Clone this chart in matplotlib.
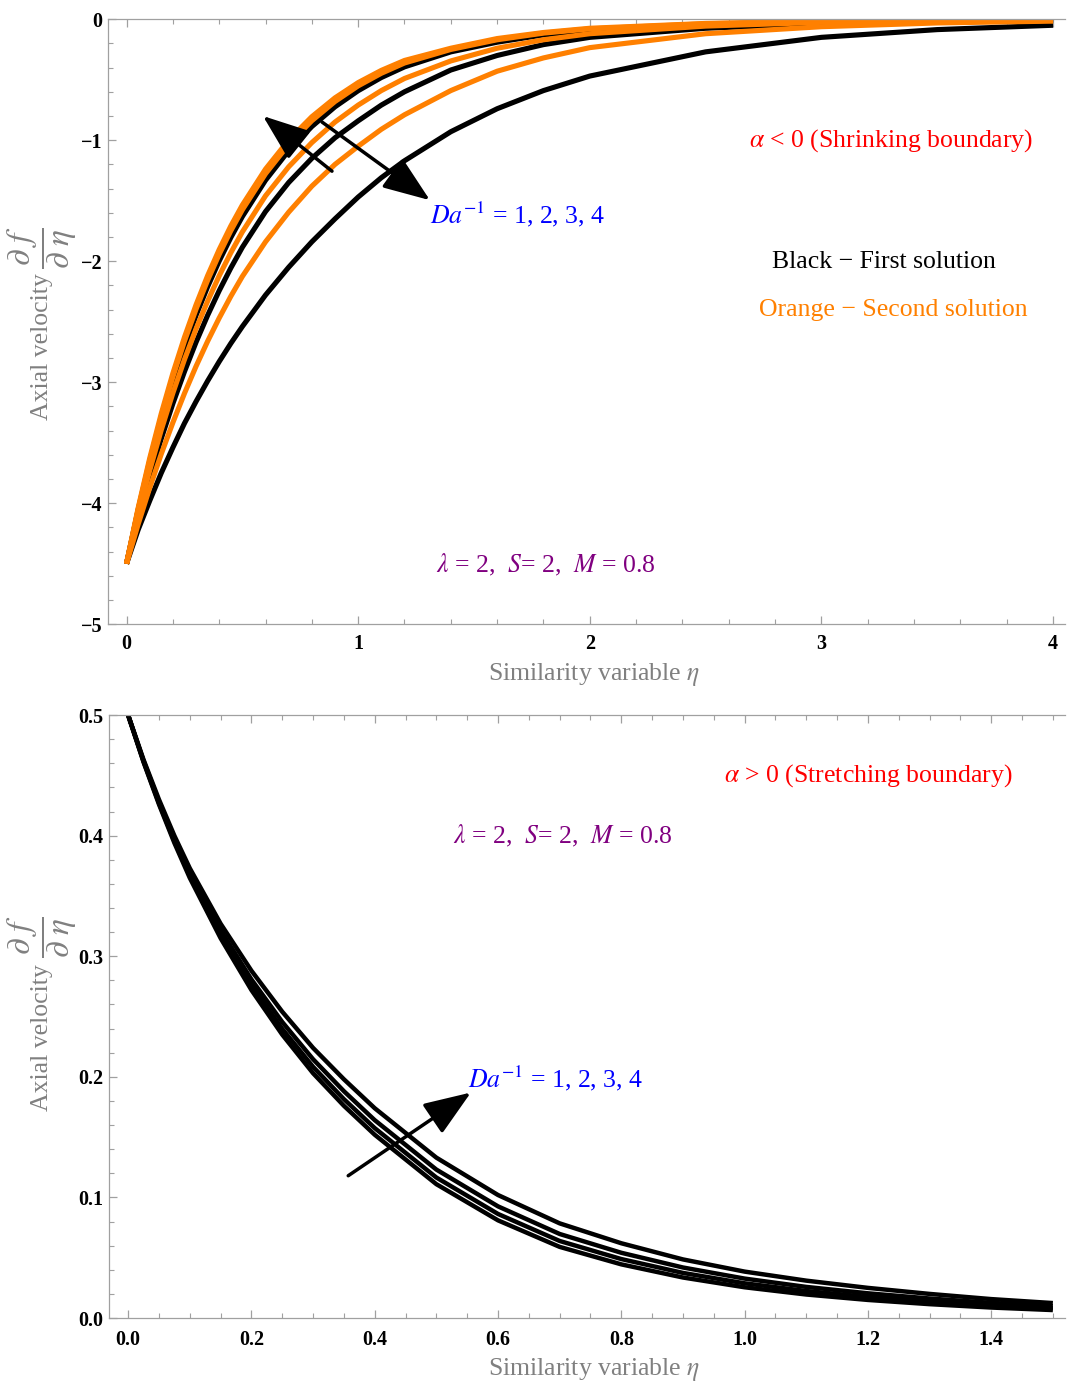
import matplotlib
matplotlib.use("Agg")
import matplotlib.pyplot as plt
from matplotlib.ticker import MultipleLocator

plt.rcParams['font.family'] = 'serif'
plt.rcParams['font.serif'] = ['Liberation Serif', 'DejaVu Serif']
plt.rcParams['mathtext.fontset'] = 'stix'

# ---- top panel: shrinking boundary (alpha < 0) ----
eta_top = [0, 0.05, 0.1, 0.15, 0.2, 0.25, 0.3, 0.35, 0.4, 0.45, 0.5, 0.6, 0.7,
           0.8, 0.9, 1.0, 1.1, 1.2, 1.4, 1.6, 1.8, 2.0, 2.5, 3.0, 3.5, 4.0]

# first solution (black)
first_1 = [-4.5, -4.058, -3.659, -3.299, -2.975, -2.682, -2.418, -2.181, -1.966,
           -1.773, -1.598, -1.300, -1.057, -0.859, -0.698, -0.568, -0.462, -0.375,
           -0.26, -0.18, -0.12, -0.085, -0.042, -0.020, -0.010, -0.005]
first_2 = [-4.5, -4.066, -3.673, -3.319, -2.998, -2.709, -2.448, -2.211, -1.998,
           -1.805, -1.631, -1.331, -1.087, -0.887, -0.724, -0.591, -0.482, -0.394,
           -0.27, -0.19, -0.13, -0.09, -0.045, -0.022, -0.011, -0.006]
first_3 = [-4.5, -4.125, -3.781, -3.466, -3.177, -2.913, -2.670, -2.448, -2.244,
           -2.057, -1.885, -1.590, -1.350, -1.150, -0.980, -0.840, -0.710, -0.600,
           -0.42, -0.30, -0.21, -0.15, -0.075, -0.037, -0.019, -0.010]
first_4 = [-4.5, -4.22, -3.98, -3.75, -3.54, -3.34, -3.16, -2.99, -2.83,
           -2.68, -2.54, -2.28, -2.05, -1.84, -1.65, -1.47, -1.31, -1.17,
           -0.93, -0.74, -0.59, -0.47, -0.27, -0.15, -0.086, -0.05]

# second solution (orange)
second_1 = [-4.5, -4.041, -3.629, -3.259, -2.927, -2.629, -2.361, -2.120, -1.904,
            -1.710, -1.536, -1.239, -0.999, -0.806, -0.650, -0.524, -0.423, -0.341,
            -0.24, -0.16, -0.11, -0.075, -0.035, -0.016, -0.008, -0.004]
second_2 = [-4.5, -4.051, -3.648, -3.284, -2.957, -2.662, -2.397, -2.158, -1.943,
            -1.749, -1.575, -1.277, -1.035, -0.839, -0.680, -0.551, -0.447, -0.362,
            -0.25, -0.17, -0.115, -0.08, -0.038, -0.018, -0.009, -0.005]
second_3 = [-4.5, -4.096, -3.729, -3.394, -3.090, -2.813, -2.560, -2.331, -2.121,
            -1.931, -1.758, -1.460, -1.220, -1.020, -0.850, -0.710, -0.590, -0.490,
            -0.345, -0.24, -0.17, -0.12, -0.057, -0.026, -0.013, -0.007]
second_4 = [-4.5, -4.175, -3.873, -3.593, -3.334, -3.093, -2.869, -2.662, -2.470,
            -2.291, -2.126, -1.840, -1.595, -1.380, -1.200, -1.050, -0.910, -0.790,
            -0.59, -0.43, -0.32, -0.235, -0.12, -0.062, -0.031, -0.016]

# ---- bottom panel: stretching boundary (alpha > 0) ----
eta_bot = [0, 0.025, 0.05, 0.075, 0.1, 0.15, 0.2, 0.25, 0.3, 0.35, 0.4, 0.5,
           0.6, 0.7, 0.8, 0.9, 1.0, 1.1, 1.2, 1.3, 1.4, 1.5]
stretch_1 = [0.5, 0.463, 0.430, 0.400, 0.373, 0.327, 0.288, 0.254, 0.224, 0.198,
             0.174, 0.133, 0.102, 0.0785, 0.062, 0.0486, 0.0385, 0.031, 0.025,
             0.020, 0.0157, 0.0124]
stretch_2 = [0.5, 0.4621, 0.4282, 0.3973, 0.3694, 0.3216, 0.2808, 0.2455, 0.2146,
             0.1881, 0.1641, 0.1231, 0.0926, 0.0697, 0.0541, 0.0419, 0.0327, 0.0258,
             0.0205, 0.0162, 0.0126, 0.0098]
stretch_3 = [0.5, 0.4615, 0.427, 0.3955, 0.367, 0.318, 0.276, 0.2398, 0.2083,
             0.1815, 0.1575, 0.1165, 0.0863, 0.0639, 0.0489, 0.0374, 0.0288, 0.0224,
             0.0175, 0.0136, 0.0105, 0.0081]
stretch_4 = [0.5, 0.461, 0.426, 0.394, 0.365, 0.315, 0.272, 0.235, 0.203, 0.176,
             0.152, 0.111, 0.081, 0.059, 0.0445, 0.0336, 0.0255, 0.0195, 0.0150,
             0.0115, 0.0087, 0.0066]

ORANGE = '#ff8000'
GREY = '#808080'
FRAME = '#a0a0a0'
frac = r'$\dfrac{\partial\ f}{\partial\ \eta}$'
xlab = r'Similarity variable $\eta$'

fig = plt.figure(figsize=(10.67, 13.81), dpi=100)
ax1 = fig.add_axes([0.101, 0.548, 0.8972, 0.4381])
ax2 = fig.add_axes([0.102, 0.0456, 0.8963, 0.4366])


def frame(ax):
    ax.spines['right'].set_visible(False)
    for s in ['left', 'bottom', 'top']:
        ax.spines[s].set_color(FRAME)
        ax.spines[s].set_linewidth(0.9)
    ax.tick_params(which='both', direction='in', top=True, right=False,
                   color=FRAME, labelsize=14.5)
    ax.tick_params(which='major', length=6, width=0.9)
    ax.tick_params(which='minor', length=3.5, width=0.8)
    for lab in ax.get_xticklabels() + ax.get_yticklabels():
        lab.set_fontweight('bold')


def ylabel(ax, x, ytxt, yfrac):
    ax.text(x, ytxt, 'Axial velocity', rotation=90, color=GREY, fontsize=18.5,
            ha='center', va='center', transform=ax.transAxes)
    ax.text(x, yfrac, frac, rotation=90, color=GREY, fontsize=24,
            ha='center', va='center', transform=ax.transAxes)


# top panel
for y in [first_1, first_2, first_3, first_4]:
    ax1.plot(eta_top, y, color='black', lw=3.7, solid_capstyle='butt')
for y in [second_1, second_2, second_3, second_4]:
    ax1.plot(eta_top, y, color=ORANGE, lw=3.7, solid_capstyle='butt')

ax1.set_xlim(-0.081, 4.052)
ax1.set_ylim(-5, 0)
ax1.set_xticks([0, 1, 2, 3, 4], ['0', '1', '2', '3', '4'])
ax1.set_yticks([-5, -4, -3, -2, -1, 0],
               ['\u22125', '\u22124', '\u22123', '\u22122', '\u22121', '0'])
ax1.xaxis.set_minor_locator(MultipleLocator(0.2))
ax1.yaxis.set_minor_locator(MultipleLocator(0.2))
ax1.tick_params(axis='x', pad=7)
ax1.tick_params(axis='y', pad=4)
frame(ax1)
ylabel(ax1, -0.0686, 0.4587, 0.623)
ax1.set_xlabel(xlab, color=GREY, fontsize=18.5)
ax1.xaxis.set_label_coords(0.508, -0.06)

arrow = dict(arrowstyle='-|>,head_length=1.45,head_width=0.55', lw=2.5,
             color='black', mutation_scale=20, shrinkA=0, shrinkB=0)
ax1.annotate('', xy=(0.589, -0.80), xytext=(0.887, -1.256), arrowprops=arrow)
ax1.annotate('', xy=(1.31, -1.496), xytext=(0.844, -0.85), arrowprops=arrow)

ax1.text(3.30, -1.0, r'$\alpha$ < 0 (Shrinking boundary)', color='red',
         fontsize=18.5, ha='center', va='center')
ax1.text(1.31, -1.61, r'$Da^{-1}$ = 1, 2, 3, 4', color='#0000ff',
         fontsize=18.5, ha='left', va='center')
ax1.text(3.27, -2.01, 'Black \u2212 First solution', color='black',
         fontsize=18.5, ha='center', va='center')
ax1.text(3.31, -2.40, 'Orange \u2212 Second solution', color=ORANGE,
         fontsize=18.5, ha='center', va='center')
ax1.text(1.81, -4.51, r'$\lambda$ = 2,  $S$= 2,  $M$ = 0.8', color='#800080',
         fontsize=18.5, ha='center', va='center')

# bottom panel
for y in [stretch_1, stretch_2, stretch_3, stretch_4]:
    ax2.plot(eta_bot, y, color='black', lw=3.2, solid_capstyle='butt')

ax2.set_xlim(-0.0313, 1.52)
ax2.set_ylim(0, 0.5)
xt = [0.0, 0.2, 0.4, 0.6, 0.8, 1.0, 1.2, 1.4]
ax2.set_xticks(xt, ['%.1f' % v for v in xt])
yt = [0.0, 0.1, 0.2, 0.3, 0.4, 0.5]
ax2.set_yticks(yt, ['%.1f' % v for v in yt])
ax2.xaxis.set_minor_locator(MultipleLocator(0.05))
ax2.yaxis.set_minor_locator(MultipleLocator(0.02))
ax2.tick_params(axis='x', pad=8.5)
ax2.tick_params(axis='y', pad=4)
frame(ax2)
ylabel(ax2, -0.0697, 0.4643, 0.632)
ax2.set_xlabel(xlab, color=GREY, fontsize=18.5)
ax2.xaxis.set_label_coords(0.5075, -0.063)

ax2.annotate('', xy=(0.556, 0.187), xytext=(0.357, 0.118), arrowprops=arrow)
ax2.text(1.20, 0.450, r'$\alpha$ > 0 (Stretching boundary)', color='red',
         fontsize=18.5, ha='center', va='center')
ax2.text(0.706, 0.400, r'$\lambda$ = 2,  $S$= 2,  $M$ = 0.8', color='#800080',
         fontsize=18.5, ha='center', va='center')
ax2.text(0.552, 0.199, r'$Da^{-1}$ = 1, 2, 3, 4', color='#0000ff',
         fontsize=18.5, ha='left', va='center')

fig.savefig('out.png', dpi=100)
